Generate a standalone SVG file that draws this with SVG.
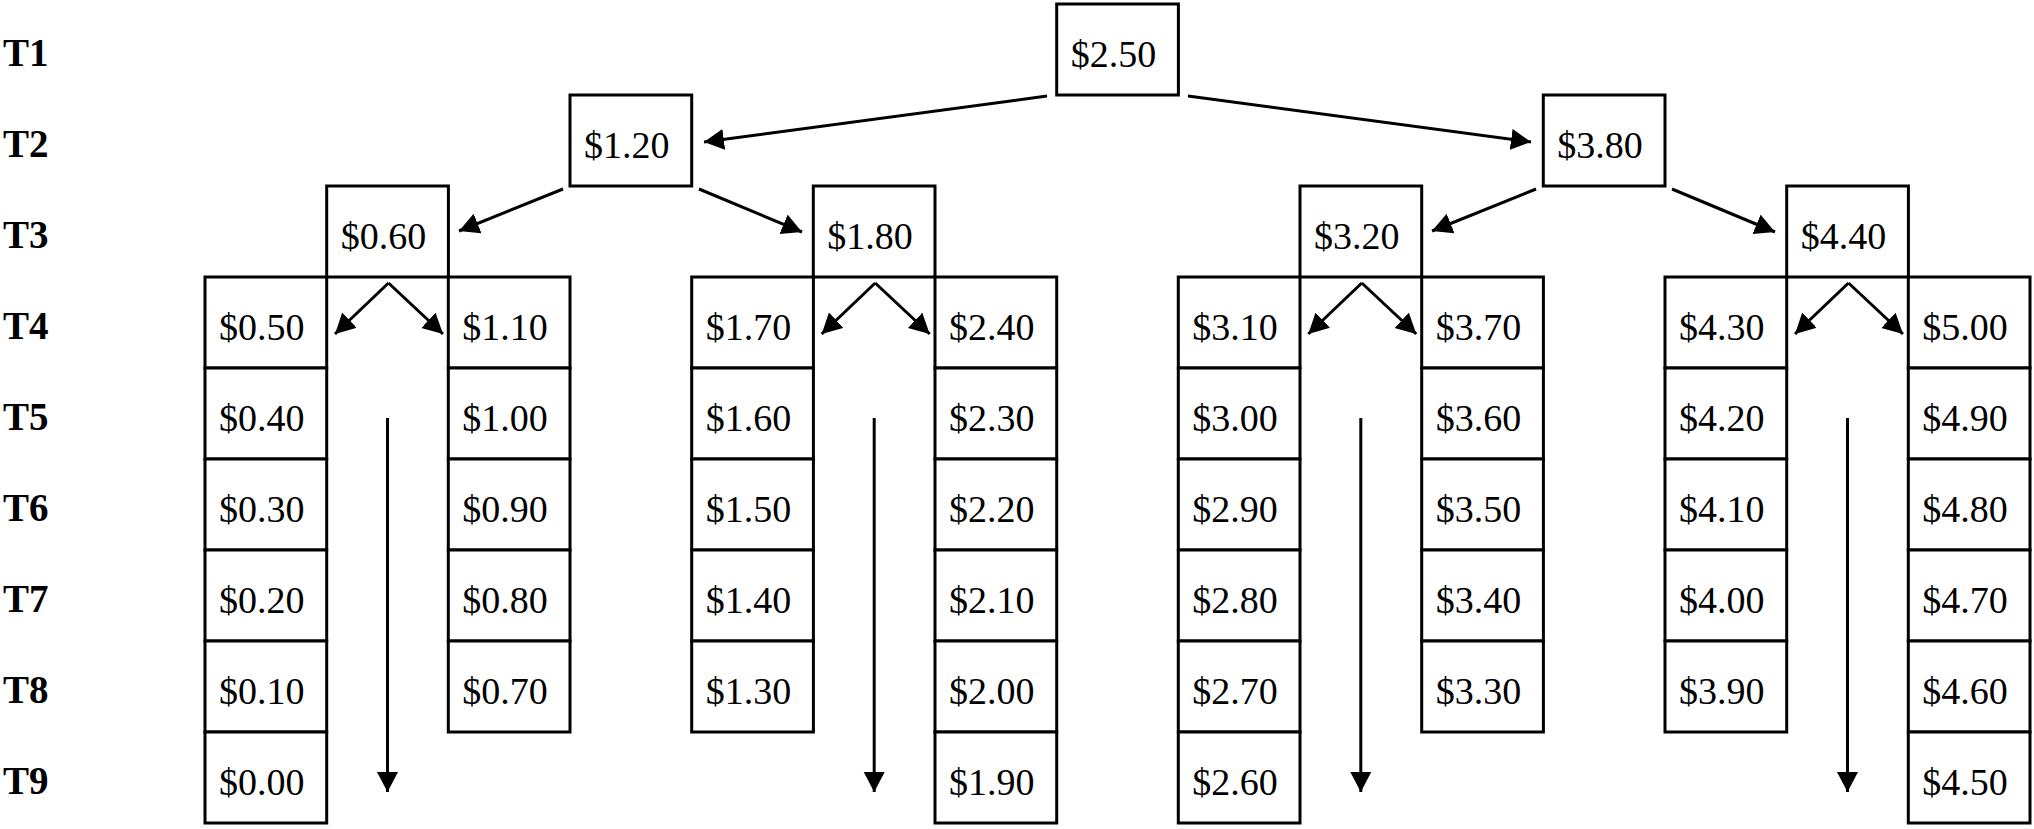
<svg xmlns="http://www.w3.org/2000/svg" width="2034" height="829" viewBox="0 0 2034 829">
<style>
rect{fill:#fff;stroke:#000;stroke-width:3}
.v{font-family:"Liberation Serif","Times New Roman",serif;font-size:38px;fill:#000}
.lbl{font-family:"Liberation Serif","Times New Roman",serif;font-size:39px;font-weight:bold;fill:#000}
.c line{stroke:#000;stroke-width:3;fill:none}
</style>
<defs>
<marker id="ah" markerUnits="userSpaceOnUse" markerWidth="22" markerHeight="22" refX="20" refY="10.5" orient="auto">
<path d="M0,0 L20,10.5 L0,21 z" fill="#000"/>
</marker>
</defs>
<rect x="0" y="0" width="2034" height="829" style="fill:#fff;stroke:none"/>
<g id="row-labels">
<text class="lbl" x="3" y="66">T1</text>
<text class="lbl" x="3" y="157">T2</text>
<text class="lbl" x="3" y="248">T3</text>
<text class="lbl" x="3" y="339">T4</text>
<text class="lbl" x="3" y="430">T5</text>
<text class="lbl" x="3" y="521">T6</text>
<text class="lbl" x="3" y="612">T7</text>
<text class="lbl" x="3" y="703">T8</text>
<text class="lbl" x="3" y="794">T9</text>
</g>
<g id="n250"><rect x="1056.7" y="4" width="121.7" height="91"/><text class="v" x="1070.7" y="67">$2.50</text></g>
<g id="n120"><rect x="570" y="95" width="121.7" height="91"/><text class="v" x="584" y="158">$1.20</text></g>
<g id="n380"><rect x="1543.3" y="95" width="121.7" height="91"/><text class="v" x="1557.3" y="158">$3.80</text></g>
<g id="n060"><rect x="326.7" y="186" width="121.7" height="91"/><text class="v" x="340.7" y="249">$0.60</text></g>
<g id="n180"><rect x="813.3" y="186" width="121.7" height="91"/><text class="v" x="827.3" y="249">$1.80</text></g>
<g id="n320"><rect x="1300" y="186" width="121.7" height="91"/><text class="v" x="1314" y="249">$3.20</text></g>
<g id="n440"><rect x="1786.7" y="186" width="121.7" height="91"/><text class="v" x="1800.7" y="249">$4.40</text></g>

<g id="col-g1-left">
<g id="n050"><rect x="205" y="277" width="121.7" height="91"/><text class="v" x="219" y="340">$0.50</text></g>
<g id="n040"><rect x="205" y="368" width="121.7" height="91"/><text class="v" x="219" y="431">$0.40</text></g>
<g id="n030"><rect x="205" y="459" width="121.7" height="91"/><text class="v" x="219" y="522">$0.30</text></g>
<g id="n020"><rect x="205" y="550" width="121.7" height="91"/><text class="v" x="219" y="613">$0.20</text></g>
<g id="n010"><rect x="205" y="641" width="121.7" height="91"/><text class="v" x="219" y="704">$0.10</text></g>
<g id="n000"><rect x="205" y="732" width="121.7" height="91"/><text class="v" x="219" y="795">$0.00</text></g>
</g>
<g id="col-g1-right">
<g id="n110"><rect x="448.3" y="277" width="121.7" height="91"/><text class="v" x="462.3" y="340">$1.10</text></g>
<g id="n100"><rect x="448.3" y="368" width="121.7" height="91"/><text class="v" x="462.3" y="431">$1.00</text></g>
<g id="n090"><rect x="448.3" y="459" width="121.7" height="91"/><text class="v" x="462.3" y="522">$0.90</text></g>
<g id="n080"><rect x="448.3" y="550" width="121.7" height="91"/><text class="v" x="462.3" y="613">$0.80</text></g>
<g id="n070"><rect x="448.3" y="641" width="121.7" height="91"/><text class="v" x="462.3" y="704">$0.70</text></g>
</g>
<g id="col-g2-left">
<g id="n170"><rect x="691.7" y="277" width="121.7" height="91"/><text class="v" x="705.7" y="340">$1.70</text></g>
<g id="n160"><rect x="691.7" y="368" width="121.7" height="91"/><text class="v" x="705.7" y="431">$1.60</text></g>
<g id="n150"><rect x="691.7" y="459" width="121.7" height="91"/><text class="v" x="705.7" y="522">$1.50</text></g>
<g id="n140"><rect x="691.7" y="550" width="121.7" height="91"/><text class="v" x="705.7" y="613">$1.40</text></g>
<g id="n130"><rect x="691.7" y="641" width="121.7" height="91"/><text class="v" x="705.7" y="704">$1.30</text></g>
</g>
<g id="col-g2-right">
<g id="n240"><rect x="935" y="277" width="121.7" height="91"/><text class="v" x="949" y="340">$2.40</text></g>
<g id="n230"><rect x="935" y="368" width="121.7" height="91"/><text class="v" x="949" y="431">$2.30</text></g>
<g id="n220"><rect x="935" y="459" width="121.7" height="91"/><text class="v" x="949" y="522">$2.20</text></g>
<g id="n210"><rect x="935" y="550" width="121.7" height="91"/><text class="v" x="949" y="613">$2.10</text></g>
<g id="n200"><rect x="935" y="641" width="121.7" height="91"/><text class="v" x="949" y="704">$2.00</text></g>
<g id="n190"><rect x="935" y="732" width="121.7" height="91"/><text class="v" x="949" y="795">$1.90</text></g>
</g>
<g id="col-g3-left">
<g id="n310"><rect x="1178.3" y="277" width="121.7" height="91"/><text class="v" x="1192.3" y="340">$3.10</text></g>
<g id="n300"><rect x="1178.3" y="368" width="121.7" height="91"/><text class="v" x="1192.3" y="431">$3.00</text></g>
<g id="n290"><rect x="1178.3" y="459" width="121.7" height="91"/><text class="v" x="1192.3" y="522">$2.90</text></g>
<g id="n280"><rect x="1178.3" y="550" width="121.7" height="91"/><text class="v" x="1192.3" y="613">$2.80</text></g>
<g id="n270"><rect x="1178.3" y="641" width="121.7" height="91"/><text class="v" x="1192.3" y="704">$2.70</text></g>
<g id="n260"><rect x="1178.3" y="732" width="121.7" height="91"/><text class="v" x="1192.3" y="795">$2.60</text></g>
</g>
<g id="col-g3-right">
<g id="n370"><rect x="1421.7" y="277" width="121.7" height="91"/><text class="v" x="1435.7" y="340">$3.70</text></g>
<g id="n360"><rect x="1421.7" y="368" width="121.7" height="91"/><text class="v" x="1435.7" y="431">$3.60</text></g>
<g id="n350"><rect x="1421.7" y="459" width="121.7" height="91"/><text class="v" x="1435.7" y="522">$3.50</text></g>
<g id="n340"><rect x="1421.7" y="550" width="121.7" height="91"/><text class="v" x="1435.7" y="613">$3.40</text></g>
<g id="n330"><rect x="1421.7" y="641" width="121.7" height="91"/><text class="v" x="1435.7" y="704">$3.30</text></g>
</g>
<g id="col-g4-left">
<g id="n430"><rect x="1665" y="277" width="121.7" height="91"/><text class="v" x="1679" y="340">$4.30</text></g>
<g id="n420"><rect x="1665" y="368" width="121.7" height="91"/><text class="v" x="1679" y="431">$4.20</text></g>
<g id="n410"><rect x="1665" y="459" width="121.7" height="91"/><text class="v" x="1679" y="522">$4.10</text></g>
<g id="n400"><rect x="1665" y="550" width="121.7" height="91"/><text class="v" x="1679" y="613">$4.00</text></g>
<g id="n390"><rect x="1665" y="641" width="121.7" height="91"/><text class="v" x="1679" y="704">$3.90</text></g>
</g>
<g id="col-g4-right">
<g id="n500"><rect x="1908.3" y="277" width="121.7" height="91"/><text class="v" x="1922.3" y="340">$5.00</text></g>
<g id="n490"><rect x="1908.3" y="368" width="121.7" height="91"/><text class="v" x="1922.3" y="431">$4.90</text></g>
<g id="n480"><rect x="1908.3" y="459" width="121.7" height="91"/><text class="v" x="1922.3" y="522">$4.80</text></g>
<g id="n470"><rect x="1908.3" y="550" width="121.7" height="91"/><text class="v" x="1922.3" y="613">$4.70</text></g>
<g id="n460"><rect x="1908.3" y="641" width="121.7" height="91"/><text class="v" x="1922.3" y="704">$4.60</text></g>
<g id="n450"><rect x="1908.3" y="732" width="121.7" height="91"/><text class="v" x="1922.3" y="795">$4.50</text></g>
</g>

<g id="connectors" class="c">
<line x1="1047" y1="96" x2="704" y2="142" marker-end="url(#ah)"/>
<line x1="1188" y1="96" x2="1531" y2="142" marker-end="url(#ah)"/>
<line x1="563" y1="189" x2="459" y2="231" marker-end="url(#ah)"/>
<line x1="699" y1="189" x2="802" y2="232" marker-end="url(#ah)"/>
<line x1="1536" y1="189" x2="1432" y2="231" marker-end="url(#ah)"/>
<line x1="1672" y1="189" x2="1775" y2="232" marker-end="url(#ah)"/>

<line x1="388.5" y1="283" x2="335" y2="334" marker-end="url(#ah)"/>
<line x1="388.5" y1="283" x2="443" y2="334" marker-end="url(#ah)"/>
<line x1="387.5" y1="418" x2="387.5" y2="792" marker-end="url(#ah)"/>

<line x1="875.2" y1="283" x2="821.7" y2="334" marker-end="url(#ah)"/>
<line x1="875.2" y1="283" x2="929.7" y2="334" marker-end="url(#ah)"/>
<line x1="874.2" y1="418" x2="874.2" y2="792" marker-end="url(#ah)"/>

<line x1="1361.8" y1="283" x2="1308.3" y2="334" marker-end="url(#ah)"/>
<line x1="1361.8" y1="283" x2="1416.3" y2="334" marker-end="url(#ah)"/>
<line x1="1360.8" y1="418" x2="1360.8" y2="792" marker-end="url(#ah)"/>

<line x1="1848.5" y1="283" x2="1795" y2="334" marker-end="url(#ah)"/>
<line x1="1848.5" y1="283" x2="1903" y2="334" marker-end="url(#ah)"/>
<line x1="1847.5" y1="418" x2="1847.5" y2="792" marker-end="url(#ah)"/>
</g>
</svg>
